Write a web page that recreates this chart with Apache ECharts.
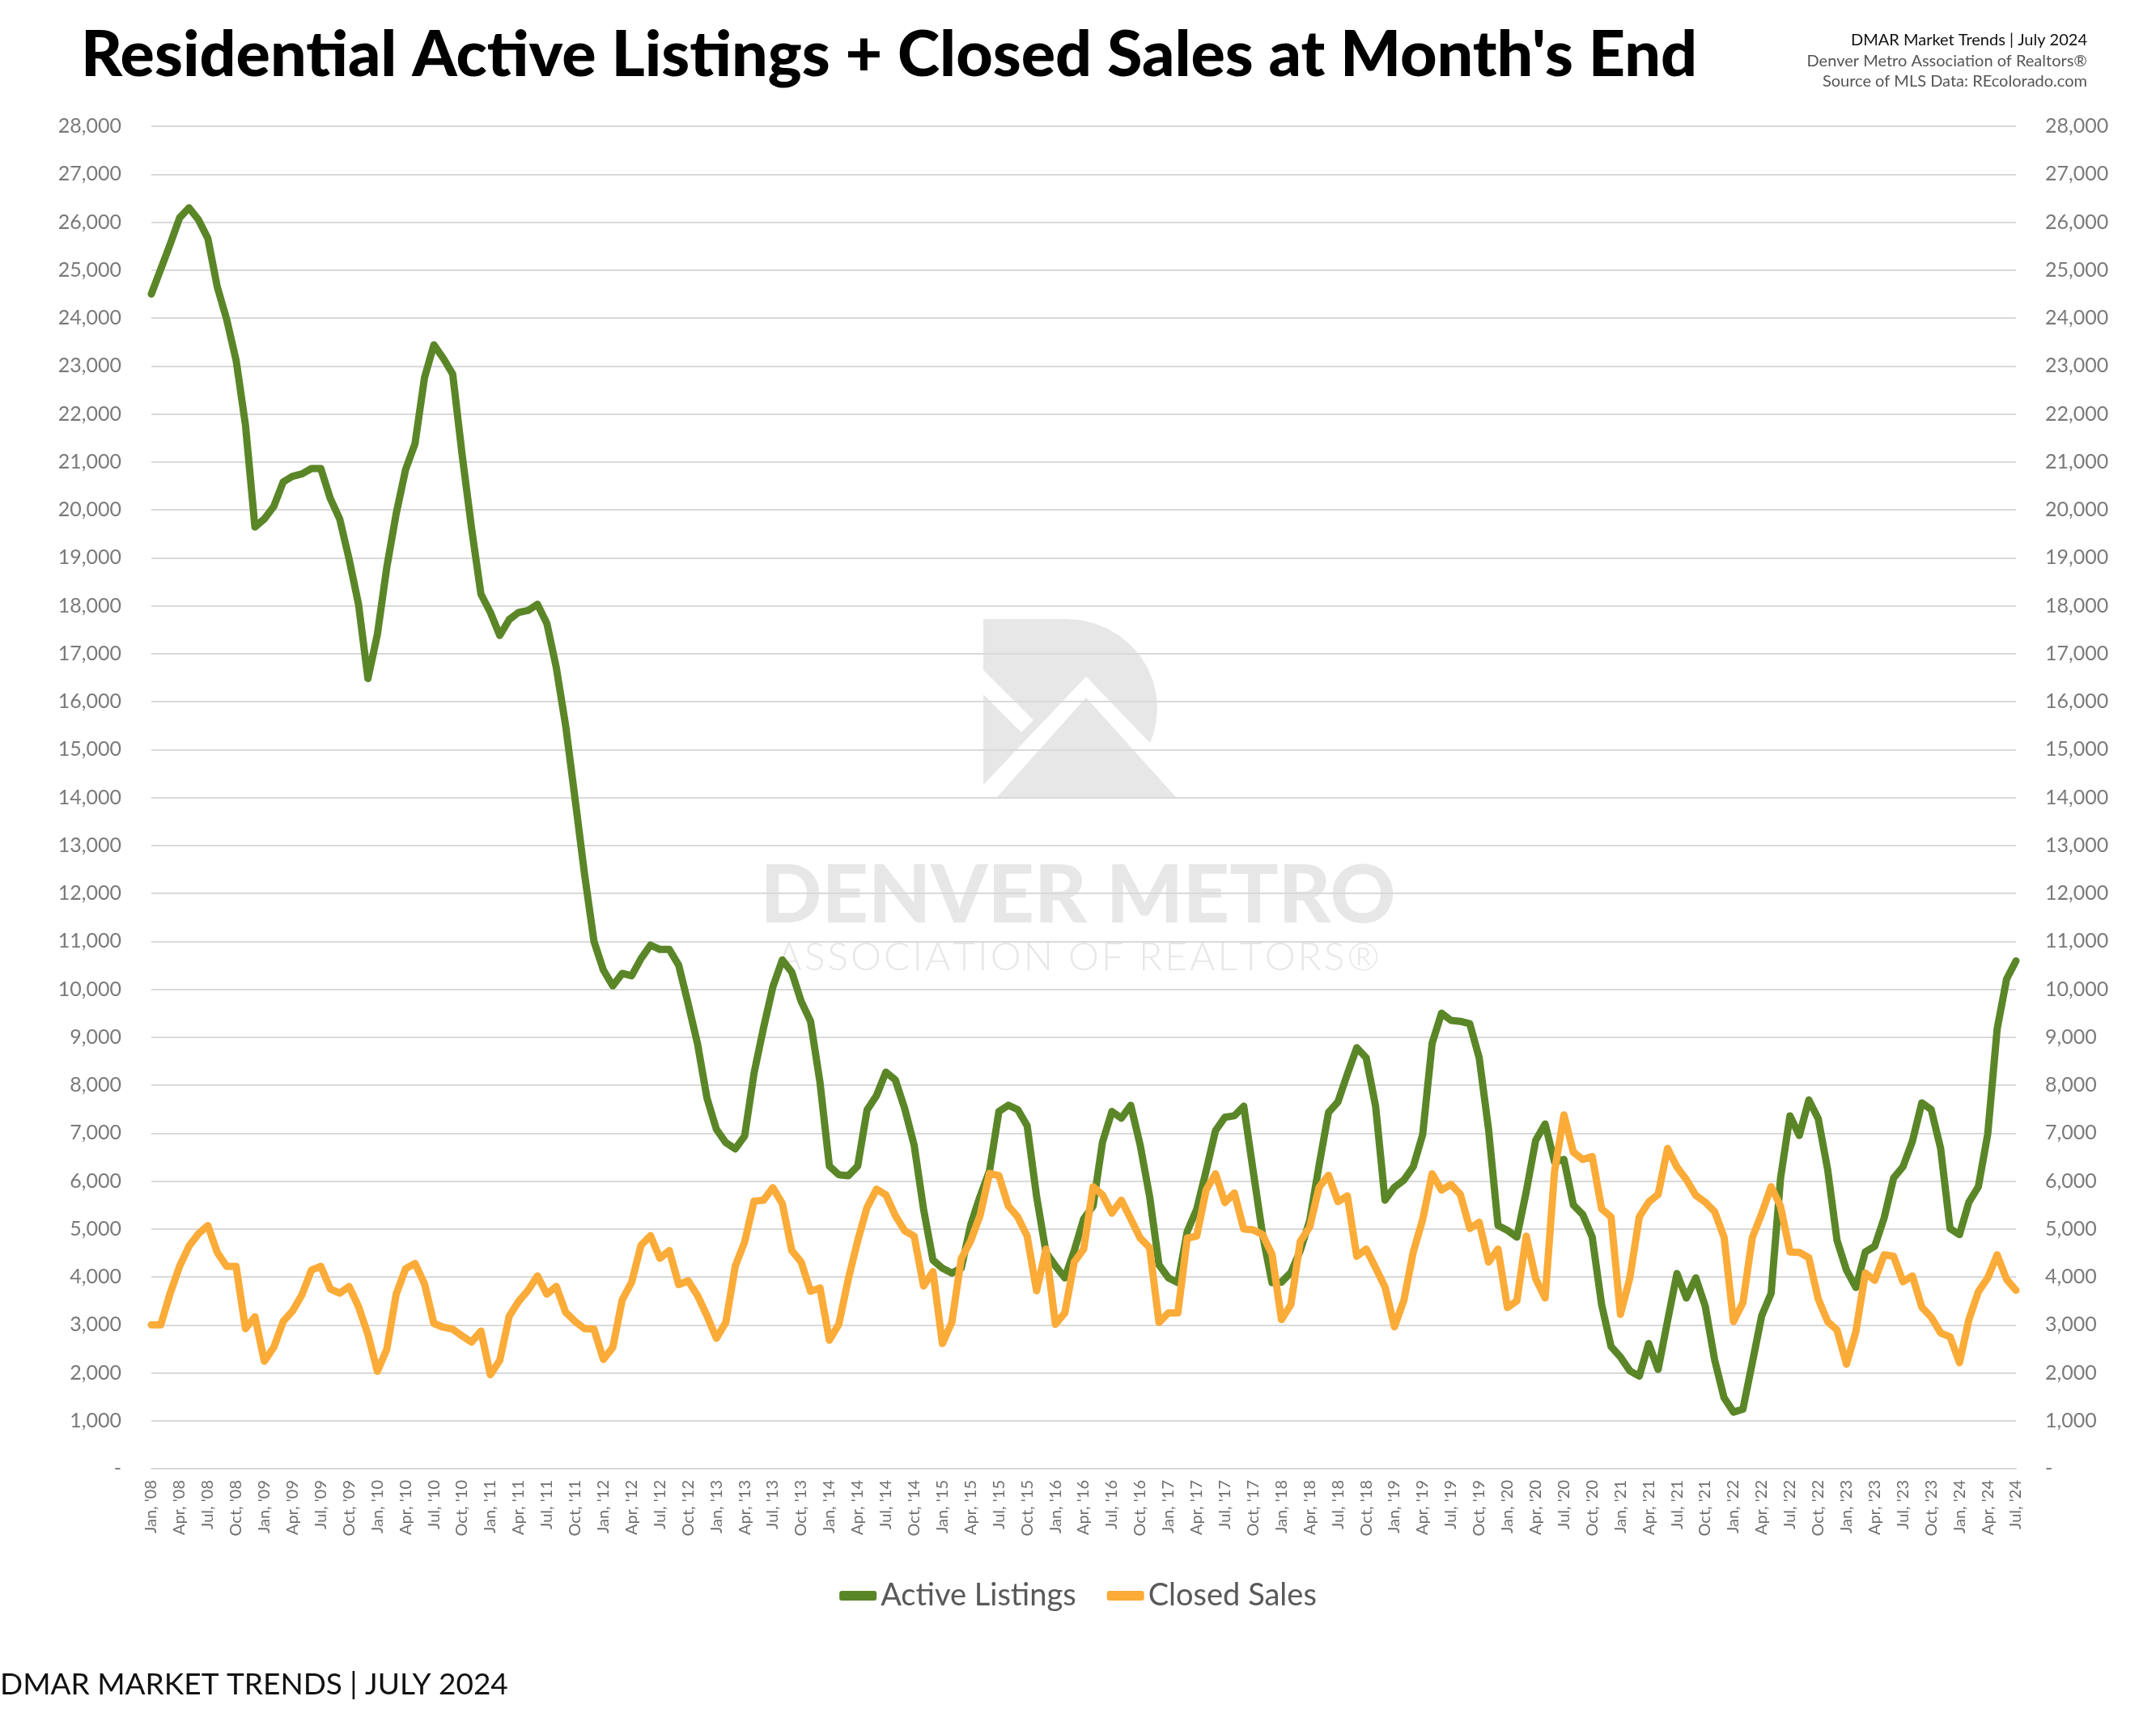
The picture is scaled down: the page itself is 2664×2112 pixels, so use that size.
<!DOCTYPE html>
<html>
<head>
<meta charset="utf-8">
<script src="https://cdn.jsdelivr.net/npm/echarts@6/dist/echarts.min.js"></script>
<style>
html,body{margin:0;padding:0;background:#fff;}
#chart{width:2664px;height:2112px;}
</style>
</head>
<body>
<div id="chart"></div>
<script>
// ---- data ----
const monthNames = ['Jan','Feb','Mar','Apr','May','Jun','Jul','Aug','Sep','Oct','Nov','Dec'];
const yearLabels = ['08','09','10','11','12','13','14','15','16','17','18','19','20','21','22','23','24'];

const activeListings = [
  24500, 25020, 25540, 26090, 26300, 26050, 25660, 24650, 23970, 23120, 21760, 19640,
  19810, 20070, 20580, 20700, 20750, 20860, 20860, 20240, 19810, 18970, 18030, 16480,
  17400, 18800, 19920, 20840, 21380, 22750, 23440, 23160, 22830, 21150, 19620, 18240,
  17860, 17380, 17710, 17860, 17900, 18030, 17630, 16710, 15490, 13960, 12400, 11000,
  10400, 10070, 10330, 10280, 10640, 10920, 10830, 10830, 10500, 9700, 8860, 7730,
  7080, 6800, 6670, 6940, 8250, 9190, 10050, 10610, 10360, 9750, 9330, 8060,
  6310, 6130, 6110, 6310, 7480, 7780, 8270, 8110, 7510, 6750, 5410, 4350,
  4180, 4080, 4180, 5080, 5680, 6210, 7450, 7580, 7490, 7150, 5680, 4510,
  4230, 3980, 4550, 5210, 5480, 6810, 7450, 7310, 7580, 6750, 5680, 4250,
  3980, 3880, 4950, 5410, 6210, 7050, 7330, 7360, 7560, 6210, 4880, 3880,
  3890, 4090, 4550, 5170, 6330, 7430, 7650, 8230, 8780, 8570, 7560, 5600,
  5870, 6020, 6300, 6970, 8870, 9500, 9350, 9330, 9280, 8570, 7070, 5070,
  4970, 4830, 5780, 6850, 7190, 6400, 6450, 5500, 5300, 4830, 3420, 2550,
  2330, 2040, 1930, 2610, 2070, 3080, 4070, 3560, 3980, 3390, 2270, 1480,
  1180, 1240, 2210, 3190, 3660, 6060, 7360, 6950, 7690, 7300, 6240, 4760,
  4140, 3780, 4520, 4640, 5230, 6060, 6300, 6830, 7630, 7490, 6680, 5010,
  4880, 5560, 5880, 6980, 9170, 10210, 10590
];

const closedSales = [
  3000, 3000, 3660, 4220, 4640, 4900, 5070, 4510, 4220, 4220, 2920, 3170,
  2240, 2530, 3070, 3290, 3630, 4140, 4220, 3750, 3660, 3800, 3380, 2800,
  2030, 2490, 3640, 4170, 4280, 3860, 3030, 2950, 2910, 2770, 2640, 2870,
  1960, 2260, 3180, 3490, 3720, 4020, 3640, 3800, 3260, 3070, 2920, 2910,
  2280, 2530, 3520, 3890, 4660, 4860, 4390, 4550, 3840, 3920, 3610, 3190,
  2720, 3050, 4220, 4730, 5580, 5600, 5860, 5530, 4550, 4310, 3700, 3770,
  2680, 3010, 3950, 4750, 5450, 5830, 5710, 5280, 4960, 4850, 3810, 4110,
  2610, 3050, 4380, 4750, 5280, 6160, 6110, 5480, 5250, 4850, 3710, 4580,
  3010, 3250, 4310, 4580, 5880, 5710, 5330, 5600, 5210, 4810, 4610, 3050,
  3250, 3250, 4810, 4850, 5810, 6150, 5550, 5750, 5000, 4980, 4880, 4470,
  3110, 3420, 4740, 5040, 5870, 6120, 5570, 5690, 4430, 4580, 4190, 3790,
  2960, 3510, 4520, 5200, 6150, 5810, 5930, 5720, 5010, 5140, 4310, 4580,
  3360, 3500, 4850, 3960, 3560, 6200, 7380, 6600, 6450, 6510, 5420, 5250,
  3220, 3980, 5250, 5560, 5720, 6680, 6290, 6030, 5700, 5560, 5360, 4830,
  3070, 3460, 4820, 5320, 5880, 5470, 4520, 4510, 4400, 3540, 3070, 2890,
  2180, 2860, 4080, 3930, 4460, 4430, 3900, 4020, 3370, 3160, 2830, 2750,
  2210, 3110, 3690, 3980, 4460, 3950, 3720
];

const categories = [];
for (const y of yearLabels) {
  for (const m of monthNames) {
    if (categories.length < activeListings.length) categories.push(m + ", '" + y);
  }
}

const GREEN = '#5B8628';
const ORANGE = '#FBAB38';
const FONT = 'Lato, "Open Sans", sans-serif';

function fmt(v) {
  if (v === 0) return '-';
  return v.toLocaleString('en-US');
}

// watermark "D" outline (decoration only)
const dPoints = [[1215, 765], [1318, 765]];
for (let k = 0; k <= 20; k++) {
  const a = -Math.PI / 2 + Math.PI * k / 20;
  dPoints.push([1318 + 112 * Math.cos(a), 875 + 110 * Math.sin(a)]);
}
dPoints.push([1215, 985]);

const assoc = 'ASSOCIATION OF REALTORS®'.split('').join('\u200A');

const chart = echarts.init(document.getElementById('chart'), null, {renderer: 'canvas'});

const wm = '#e7e7e7';
chart.setOption({
  backgroundColor: '#ffffff',
  animation: false,
  title: {
    text: "Residential Active Listings + Closed Sales at Month's End",
    left: 95, top: 24,
    textStyle: {fontFamily: FONT, fontWeight: 900, fontSize: 79, color: '#000'}
  },
  graphic: [
    {type: 'polygon', z: -10, silent: true, shape: {points: dPoints}, style: {fill: wm}},
    {type: 'polygon', z: -9, silent: true,
     shape: {points: [[1342, 836], [1196, 990], [1490, 990]]}, style: {fill: '#fff'}},
    {type: 'polygon', z: -8, silent: true,
     shape: {points: [[1342, 862], [1232, 985], [1453, 985]]}, style: {fill: wm}},
    {type: 'polygon', z: -8, silent: true,
     shape: {points: [[1215, 828], [1215, 858], [1262, 905], [1277, 890]]}, style: {fill: '#fff'}},
    {type: 'text', z: -10, silent: true, left: 'center', top: 1058,
     style: {text: 'DENVER METRO', font: '900 100px ' + FONT, fill: wm}},
    {type: 'text', z: -10, silent: true, left: 'center', top: 1160,
     style: {text: assoc, font: '300 48px ' + FONT, fill: wm}},
    {type: 'text', right: 85, top: 40,
     style: {text: 'DMAR Market Trends | July 2024', font: '20px ' + FONT, fill: '#111', textAlign: 'right'}},
    {type: 'text', right: 85, top: 66,
     style: {text: 'Denver Metro Association of Realtors®', font: '20px ' + FONT, fill: '#555', textAlign: 'right'}},
    {type: 'text', right: 85, top: 91,
     style: {text: 'Source of MLS Data: REcolorado.com', font: '20px ' + FONT, fill: '#555', textAlign: 'right'}},
    {type: 'text', left: 0, top: 2064,
     style: {text: 'DMAR MARKET TRENDS | JULY 2024', font: '37px ' + FONT, fill: '#111'}}
  ],
  legend: {
    data: ['Active Listings', 'Closed Sales'],
    left: 'center', top: 1948,
    itemWidth: 46, itemHeight: 12, itemGap: 38,
    icon: 'roundRect',
    textStyle: {fontFamily: FONT, fontSize: 38, color: '#595959'}
  },
  grid: {left: 187, right: 173, top: 156, bottom: 297, containLabel: false},
  xAxis: {
    type: 'category', data: categories, boundaryGap: false,
    axisLine: {lineStyle: {color: '#d9d9d9', width: 2}},
    axisTick: {show: false},
    axisLabel: {interval: 2, rotate: 90, margin: 14, fontFamily: FONT, fontSize: 20, color: '#6e6e6e'},
    splitLine: {show: false}
  },
  yAxis: [
    {type: 'value', min: 0, max: 28000, interval: 1000, position: 'left',
     axisLine: {show: false}, axisTick: {show: false},
     axisLabel: {formatter: fmt, margin: 37, fontFamily: FONT, fontSize: 25, color: '#7a7a7a'},
     splitLine: {lineStyle: {color: '#d9d9d9', width: 2}}},
    {type: 'value', min: 0, max: 28000, interval: 1000, position: 'right',
     axisLine: {show: false}, axisTick: {show: false},
     axisLabel: {formatter: fmt, margin: 36, fontFamily: FONT, fontSize: 25, color: '#7a7a7a'},
     splitLine: {show: false}}
  ],
  series: [
    {name: 'Active Listings', type: 'line', data: activeListings, yAxisIndex: 0,
     showSymbol: false, symbol: 'none', smooth: false, color: GREEN,
     lineStyle: {width: 9, color: GREEN, join: 'round', cap: 'round'}, z: 3},
    {name: 'Closed Sales', type: 'line', data: closedSales, yAxisIndex: 0,
     showSymbol: false, symbol: 'none', smooth: false, color: ORANGE,
     lineStyle: {width: 9, color: ORANGE, join: 'round', cap: 'round'}, z: 4}
  ]
});
</script>
</body>
</html>
